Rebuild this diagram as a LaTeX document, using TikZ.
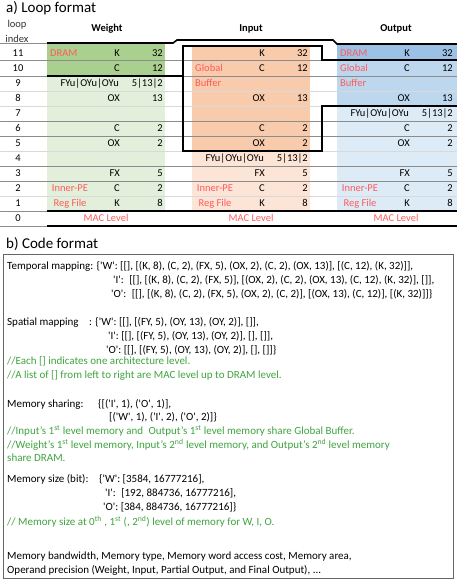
\documentclass[tikz,border=0pt]{standalone}
\usepackage{fontspec}
\setmainfont{Carlito}
\usepackage{xcolor}
\usepackage{tikz}
\usetikzlibrary{positioning}

\definecolor{wdram}{HTML}{A9D08E}
\definecolor{wreg}{HTML}{E2EFDA}
\definecolor{igb}{HTML}{F8CBAD}
\definecolor{ireg}{HTML}{FCE4D6}
\definecolor{odram}{HTML}{9BC2E6}
\definecolor{ogb}{HTML}{BDD7EE}
\definecolor{oreg}{HTML}{DDEBF7}
\definecolor{lvlred}{HTML}{FF5B5B}
\definecolor{notegreen}{HTML}{3FA33F}
\definecolor{griddark}{HTML}{8C8C8C}
\definecolor{gridlight}{HTML}{D9D9D9}
\newcommand{\sqt}{\textquotesingle}

\begin{document}
\begin{tikzpicture}[
    x=1pt, y=-1pt,
    every node/.style={font=\fontsize{10.5}{12}\selectfont, inner sep=0pt},
    title/.style={anchor=base west, font=\fontsize{15}{17}\selectfont},
    head/.style={anchor=base, font=\fontsize{10.5}{12}\selectfont\bfseries},
    idx/.style={anchor=base},
    dim/.style={anchor=base east},
    lvl/.style={anchor=base west, text=lvlred},
    lvlc/.style={anchor=base, text=lvlred},
    code/.style={anchor=base west, font=\fontsize{11}{13}\selectfont},
    note/.style={code, text=notegreen},
    gridd/.style={draw=griddark, line width=0.6pt},
    gridl/.style={draw=gridlight, line width=0.6pt},
    border/.style={line width=1.6pt, line join=miter},
]
\useasboundingbox (0,0) rectangle (457,581);

% a) loop format
\fill[wdram] (47,43)   rectangle (165,76);
\fill[wreg]  (47,76)   rectangle (165,211);
\fill[igb]   (192,46)  rectangle (310,151);
\fill[ireg]  (192,151) rectangle (310,211);
\fill[odram] (337,44)  rectangle (457,60);
\fill[ogb]   (337,60)  rectangle (457,106);
\fill[oreg]  (337,106) rectangle (457,211);

\draw[gridd] (0,60) -- (457,60) (0,76) -- (457,76) (0,121) -- (457,121)
             (0,136) -- (457,136) (0,166) -- (457,166) (0,181) -- (457,181);
\draw[gridl] (0,91) -- (457,91) (0,106) -- (457,106) (0,151) -- (457,151) (0,196) -- (457,196);
\draw[gridd] (0,43) -- (47,43) (0,211) -- (47,211) (0,226) -- (47,226);

\draw[border] (47,43) -- (173,43) -- (177,40) -- (333,40) -- (337,44) -- (457,44);
\draw[border] (47,76) -- (183,76);
\draw[border] (457,60) -- (322,60) -- (322,46) -- (183,46) -- (183,151) -- (322,151) -- (322,106) -- (457,106);
\draw[border] (47,211) -- (457,211) (47,226) -- (457,226);

\node[title] (ta) at (6,12) {a) Loop format};
\node[idx, text=black!80] (loop) at (17,27) {loop};
\node[idx, text=black!80] (index) at (17,42) {index};
\node[head] (hw) at (107,31) {Weight};
\node[head] (hi) at (251,31) {Input};
\node[head] (ho) at (396,31) {Output};

\node[idx] (i11) at (18,56)    {11};
\node[idx] (i10) at (18,71.5)  {10};
\node[idx] (i9)  at (18,86.5)  {9};
\node[idx] (i8)  at (18,101.5) {8};
\node[idx] (i7)  at (18,116.5) {7};
\node[idx] (i6)  at (18,131.5) {6};
\node[idx] (i5)  at (18,146.5) {5};
\node[idx] (i4)  at (18,161.5) {4};
\node[idx] (i3)  at (18,176.5) {3};
\node[idx] (i2)  at (18,191.5) {2};
\node[idx] (i1)  at (18,206.5) {1};
\node[idx] (i0)  at (18,221.5) {0};

% weight
\node[lvl]  (wdram) at (50,56)    {DRAM};
\node[dim]  (wd11)  at (120,56)   {K};
\node[dim]  (wv11)  at (163,56)   {32};
\node[dim]  (wd10)  at (120,71.5) {C};
\node[dim]  (wv10)  at (163,71.5) {12};
\node[dim]  (wd9)   at (119,86.5) {FYu|OYu|OYu};
\node[dim]  (wv9)   at (163,86.5) {5|13|2};
\node[dim]  (wd8)   at (120,101.5) {OX};
\node[dim]  (wv8)   at (163,101.5) {13};
\node[dim]  (wd6)   at (120,131.5) {C};
\node[dim]  (wv6)   at (163,131.5) {2};
\node[dim]  (wd5)   at (120,146.5) {OX};
\node[dim]  (wv5)   at (163,146.5) {2};
\node[dim]  (wd3)   at (120,176.5) {FX};
\node[dim]  (wv3)   at (163,176.5) {5};
\node[lvlc] (wpe)   at (70,191.5) {Inner-PE};
\node[dim]  (wd2)   at (120,191.5) {C};
\node[dim]  (wv2)   at (163,191.5) {2};
\node[lvlc] (wrf)   at (70,206.5) {Reg File};
\node[dim]  (wd1)   at (120,206.5) {K};
\node[dim]  (wv1)   at (163,206.5) {8};
\node[lvlc] (wmac)  at (106,221.5) {MAC Level};

% input
\node[dim]  (id11)  at (265,56)   {K};
\node[dim]  (iv11)  at (308,56)   {32};
\node[lvl]  (igl)   at (195,71.5) {Global};
\node[dim]  (id10)  at (265,71.5) {C};
\node[dim]  (iv10)  at (308,71.5) {12};
\node[lvl]  (ibuf)  at (195,86.5) {Buffer};
\node[dim]  (id8)   at (265,101.5) {OX};
\node[dim]  (iv8)   at (308,101.5) {13};
\node[dim]  (id6)   at (265,131.5) {C};
\node[dim]  (iv6)   at (308,131.5) {2};
\node[dim]  (id5)   at (265,146.5) {OX};
\node[dim]  (iv5)   at (308,146.5) {2};
\node[dim]  (id4)   at (264,161.5) {FYu|OYu|OYu};
\node[dim]  (iv4)   at (308,161.5) {5|13|2};
\node[dim]  (id3)   at (265,176.5) {FX};
\node[dim]  (iv3)   at (308,176.5) {5};
\node[lvlc] (ipe)   at (215,191.5) {Inner-PE};
\node[dim]  (id2)   at (265,191.5) {C};
\node[dim]  (iv2)   at (308,191.5) {2};
\node[lvlc] (irf)   at (215,206.5) {Reg File};
\node[dim]  (id1)   at (265,206.5) {K};
\node[dim]  (iv1)   at (308,206.5) {8};
\node[lvlc] (imac)  at (251,221.5) {MAC Level};

% output
\node[lvl]  (odram) at (340,56)   {DRAM};
\node[dim]  (od11)  at (410,56)   {K};
\node[dim]  (ov11)  at (453,56)   {32};
\node[lvl]  (ogl)   at (340,71.5) {Global};
\node[dim]  (od10)  at (410,71.5) {C};
\node[dim]  (ov10)  at (453,71.5) {12};
\node[lvl]  (obuf)  at (340,86.5) {Buffer};
\node[dim]  (od8)   at (410,101.5) {OX};
\node[dim]  (ov8)   at (453,101.5) {13};
\node[dim]  (od7)   at (409,116.5) {FYu|OYu|OYu};
\node[dim]  (ov7)   at (453,116.5) {5|13|2};
\node[dim]  (od6)   at (410,131.5) {C};
\node[dim]  (ov6)   at (453,131.5) {2};
\node[dim]  (od5)   at (410,146.5) {OX};
\node[dim]  (ov5)   at (453,146.5) {2};
\node[dim]  (od3)   at (410,176.5) {FX};
\node[dim]  (ov3)   at (453,176.5) {5};
\node[lvlc] (ope)   at (360,191.5) {Inner-PE};
\node[dim]  (od2)   at (410,191.5) {C};
\node[dim]  (ov2)   at (453,191.5) {2};
\node[lvlc] (orf)   at (360,206.5) {Reg File};
\node[dim]  (od1)   at (410,206.5) {K};
\node[dim]  (ov1)   at (453,206.5) {8};
\node[lvlc] (omac)  at (396,221.5) {MAC Level};

% b) code format
\node[title] (tb) at (6,248) {b) Code format};
\draw[draw=black!60, line width=0.8pt] (3,254) rectangle (453,578);

\node[code] (tm)  at (7,269)   {Temporal mapping: \{\sqt W\sqt: [[], [(K, 8), (C, 2), (FX, 5), (OX, 2), (C, 2), (OX, 13)], [(C, 12), (K, 32)]],};
\node[code] (tmi) at (113,283) {\sqt I\sqt:\enskip[[], [(K, 8), (C, 2), (FX, 5)], [(OX, 2), (C, 2), (OX, 13), (C, 12), (K, 32)], []],};
\node[code] (tmo) at (111,297) {\sqt O\sqt:\enskip[[], [(K, 8), (C, 2), (FX, 5), (OX, 2), (C, 2)], [(OX, 13), (C, 12)], [(K, 32)]]\}};

\node[code] (sm)  at (7,325.5)   {Spatial mapping};
\node[code] (smw) at (89,325.5)  {: \{\sqt W\sqt: [[], [(FY, 5), (OY, 13), (OY, 2)], []],};
\node[code] (smi) at (108,339.5) {\sqt I\sqt: [[], [(FY, 5), (OY, 13), (OY, 2)], [], []],};
\node[code] (smo) at (106,353.5) {\sqt O\sqt: [[], [(FY, 5), (OY, 13), (OY, 2)], [], []]\}};
\node[note] (n1)  at (7,364) {//Each [] indicates one architecture level.};
\node[note] (n2)  at (7,378) {//A list of [] from left to right are MAC level up to DRAM level.};

\node[code] (ms)  at (7,407)   {Memory sharing:};
\node[code] (ms1) at (98,407)  {\{[(\sqt I\sqt, 1), (\sqt O\sqt, 1)],};
\node[code] (ms2) at (109,420) {[(\sqt W\sqt, 1), (\sqt I\sqt, 2), (\sqt O\sqt, 2)]\}};
\node[note] (n3)  at (7,434) {//Input’s 1\textsuperscript{st} level memory and\enskip Output’s 1\textsuperscript{st} level memory share Global Buffer.};
\node[note] (n4)  at (7,448) {//Weight’s 1\textsuperscript{st} level memory, Input’s 2\textsuperscript{nd} level memory, and Output’s 2\textsuperscript{nd} level memory};
\node[note] (n5)  at (7,461) {share DRAM.};

\node[code] (mz)  at (7,482)   {Memory size (bit):};
\node[code] (mzw) at (99,482)  {\{\sqt W\sqt: [3584, 16777216],};
\node[code] (mzi) at (105,496) {\sqt I\sqt:\enskip[192, 884736, 16777216],};
\node[code] (mzo) at (103,510) {\sqt O\sqt: [384, 884736, 16777216]\}};
\node[note] (n6)  at (7,525) {// Memory size at 0\textsuperscript{th} , 1\textsuperscript{st} (, 2\textsuperscript{nd}) level of memory for W, I, O.};

\node[code] (mb)  at (7,559) {Memory bandwidth, Memory type, Memory word access cost, Memory area,};
\node[code] (op)  at (7,573) {Operand precision (Weight, Input, Partial Output, and Final Output), ...};
\end{tikzpicture}
\end{document}
